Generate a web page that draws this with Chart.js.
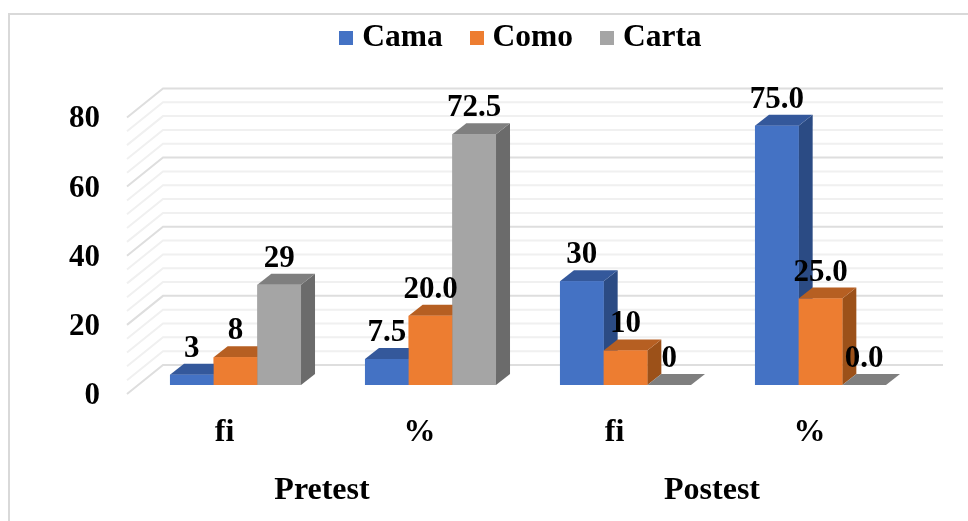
<!DOCTYPE html>
<html>
<head>
<meta charset="utf-8">
<title>Pretest / Postest</title>
<script src="https://cdn.jsdelivr.net/npm/chart.js@4/dist/chart.umd.min.js"></script>
<style>
    html, body { margin: 0; padding: 0; background: #fff; overflow: hidden; }
    #moldura { position: absolute; left: 8px; top: 13px; right: 0; bottom: 0; border-top: 2px solid #d9d9d9; border-left: 2px solid #d9d9d9; }
    #grafico { position: absolute; left: 0; top: 0; }
</style>
</head>
<body>
<div id="moldura"></div>
<canvas id="grafico" width="968" height="521"></canvas>
<script>
// Dados
const categorias = ['fi', '%', 'fi', '%'];
const grupos = ['Pretest', 'Postest'];
const cama = [3, 7.5, 30, 75];
const como = [8, 20, 10, 25];
const carta = [29, 72.5, 0, 0];
const linhasGrade = [0, 4, 8, 12, 16, 20, 24, 28, 32, 36, 40, 44, 48, 52, 56, 60, 64, 68, 72, 76, 80];

const fonte = 'Liberation Serif';
const tamanho = 31;

// deslocamento da profundidade das barras e das paredes (efeito 3D do Excel)
const barraDx = 14, barraDy = -11;
const paredeDx = 25, paredeDy = -20;
const chaoDx = -11, chaoDy = 9;

const cores = {
    Cama: { frente: '#4472c4', topo: '#34589b', lado: '#2b4b84' },
    Como: { frente: '#ed7d31', topo: '#b65f22', lado: '#9c5119' },
    Carta: { frente: '#a5a5a5', topo: '#7f7f7f', lado: '#6b6b6b' }
};

// quadradinho da legenda, maior que o espaco reservado para o texto ficar perto
function amostra(cor) {
    const c = document.createElement('canvas');
    c.width = 14;
    c.height = 14;
    const g = c.getContext('2d');
    g.fillStyle = cor;
    g.fillRect(0, 0, 14, 14);
    return c;
}

function face(ctx, cor, pontos) {
    ctx.fillStyle = cor;
    ctx.beginPath();
    pontos.forEach((p, i) => i ? ctx.lineTo(p[0], p[1]) : ctx.moveTo(p[0], p[1]));
    ctx.closePath();
    ctx.fill();
}

// a legenda fica mais a direita que o centro do grafico
const moveLegenda = {
    id: 'moveLegenda',
    afterLayout(chart) {
        chart.legend.left += 65;
        chart.legend.right += 65;
    }
};

// grade nas paredes, atras das barras
const paredes = {
    id: 'paredes',
    beforeDatasetsDraw(chart) {
        const { ctx, chartArea, scales } = chart;
        ctx.save();
        ctx.lineWidth = 2;
        linhasGrade.forEach(v => {
            const y = scales.y.getPixelForValue(v);
            ctx.strokeStyle = v % 20 === 0 ? '#dedede' : '#f0f0f0';
            ctx.beginPath();
            ctx.moveTo(chartArea.left + chaoDx, y + chaoDy);
            ctx.lineTo(chartArea.left + paredeDx, y + paredeDy);
            ctx.lineTo(chartArea.right + paredeDx, y + paredeDy);
            ctx.stroke();
        });
        ctx.restore();
    }
};

// faces laterais e de cima, depois a frente de novo e o valor
const barras3d = {
    id: 'barras3d',
    afterDatasetsDraw(chart) {
        const ctx = chart.ctx;
        ctx.save();
        chart.data.datasets.forEach((ds, i) => {
            const c = cores[ds.label];
            chart.getDatasetMeta(i).data.forEach(bar => {
                const esq = bar.x - bar.width / 2;
                const dir = bar.x + bar.width / 2;
                face(ctx, c.lado, [[dir, bar.y], [dir + barraDx, bar.y + barraDy], [dir + barraDx, bar.base + barraDy], [dir, bar.base]]);
                face(ctx, c.topo, [[esq, bar.y], [esq + barraDx, bar.y + barraDy], [dir + barraDx, bar.y + barraDy], [dir, bar.y]]);
                bar.draw(ctx);
            });
        });
        ctx.fillStyle = '#000';
        ctx.font = 'bold ' + tamanho + 'px "' + fonte + '"';
        ctx.textAlign = 'center';
        ctx.textBaseline = 'middle';
        chart.data.datasets.forEach((ds, i) => {
            chart.getDatasetMeta(i).data.forEach((bar, j) => {
                const texto = j % 2 ? ds.data[j].toFixed(1) : String(ds.data[j]);
                ctx.fillText(texto, bar.x, bar.y - 26);
            });
        });
        ctx.restore();
    }
};

const ctx = document.getElementById('grafico').getContext('2d');
const grafico = new Chart(ctx, {
    type: 'bar',
    data: {
        labels: categorias,
        datasets: [
            { label: 'Cama', data: cama, backgroundColor: cores.Cama.frente },
            { label: 'Como', data: como, backgroundColor: cores.Como.frente },
            { label: 'Carta', data: carta, backgroundColor: cores.Carta.frente }
        ]
    },
    plugins: [moveLegenda, paredes, barras3d],
    options: {
        responsive: false,
        animation: false,
        layout: { padding: { top: -12, right: 50, left: 0, bottom: 0 } },
        datasets: { bar: { categoryPercentage: 0.672, barPercentage: 1 } },
        plugins: {
            tooltip: { enabled: false },
            legend: {
                position: 'top',
                labels: {
                    color: '#000',
                    font: { family: fonte, size: 31.5, weight: 'bold' },
                    usePointStyle: true,
                    pointStyleWidth: 0.1,
                    padding: 34,
                    generateLabels: chart => chart.data.datasets.map((ds, i) => ({
                        text: ds.label,
                        pointStyle: amostra(cores[ds.label].frente),
                        fontColor: '#000',
                        lineWidth: 0,
                        datasetIndex: i
                    }))
                }
            }
        },
        scales: {
            x: {
                type: 'category',
                grid: { display: false, drawTicks: false },
                border: { display: false },
                afterFit: s => { s.height = 60; },
                ticks: {
                    color: '#000',
                    font: { family: fonte, size: 32, weight: 'bold' },
                    padding: 29,
                    labelOffset: chaoDx,
                    maxRotation: 0,
                    autoSkip: false
                }
            },
            grupo: {
                type: 'category',
                position: 'bottom',
                labels: grupos,
                grid: { display: false, drawTicks: false },
                border: { display: false },
                afterFit: s => { s.height = 76; },
                ticks: {
                    color: '#000',
                    font: { family: fonte, size: 32, weight: 'bold' },
                    padding: 27,
                    labelOffset: chaoDx,
                    maxRotation: 0,
                    autoSkip: false
                }
            },
            y: {
                min: 0,
                max: 93,
                grid: { display: false, drawTicks: false },
                border: { display: false },
                afterFit: s => { s.width = 138; },
                ticks: {
                    stepSize: 20,
                    includeBounds: false,
                    color: '#000',
                    font: { family: fonte, size: tamanho, weight: 'bold' },
                    padding: 38,
                    labelOffset: chaoDy + 2
                }
            }
        }
    }
});
</script>
</body>
</html>
